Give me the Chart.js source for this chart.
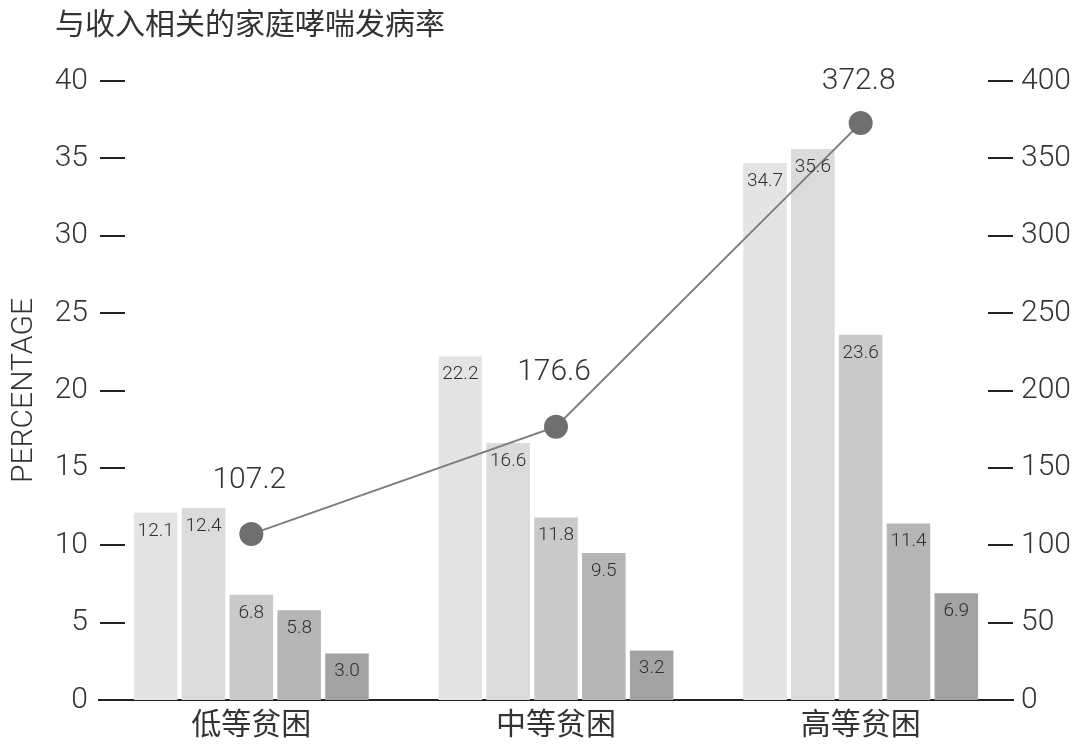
<!DOCTYPE html>
<html>
<head>
<meta charset="utf-8">
<script src="https://cdn.jsdelivr.net/npm/chart.js@4"></script>
<style>
  html,body{margin:0;padding:0;background:#fff;}
  #wrap{width:1080px;height:744px;position:relative;}
</style>
</head>
<body>
<div id="wrap"><canvas id="c"></canvas></div>
<script>
const categories = ['低等贫困', '中等贫困', '高等贫困'];
const series1 = [12.1, 22.2, 34.7];
const series2 = [12.4, 16.6, 35.6];
const series3 = [6.8, 11.8, 23.6];
const series4 = [5.8, 9.5, 11.4];
const series5 = [3.0, 3.2, 6.9];
const lineValues = [107.2, 176.6, 372.8];
const leftTicks = [0, 5, 10, 15, 20, 25, 30, 35, 40];
const rightTicks = [0, 50, 100, 150, 200, 250, 300, 350, 400];

const barColors = ['#e4e4e4', '#dbdbdb', '#c9c9c9', '#b5b5b5', '#a3a3a3'];
const NUM_FONT = 'Roboto, "Liberation Sans", sans-serif';
const CJK_FONT = '"Noto Sans CJK SC", "Noto Sans", sans-serif';

// short tick dashes drawn just inside the plot area, positioned by the scales
const dashPlugin = {
  id: 'tickDashes',
  afterDraw(chart) {
    const ctx = chart.ctx;
    const area = chart.chartArea;
    const len = 25;
    ctx.save();
    ctx.strokeStyle = '#222';
    ctx.lineWidth = 2;
    ['y', 'y2'].forEach(id => {
      const sc = chart.scales[id];
      sc.ticks.forEach(t => {
        if (t.value === 0) return;
        const py = Math.round(sc.getPixelForValue(t.value));
        ctx.beginPath();
        if (id === 'y') {
          ctx.moveTo(area.left + 1, py);
          ctx.lineTo(area.left + 1 + len, py);
        } else {
          ctx.moveTo(area.right - len, py);
          ctx.lineTo(area.right, py);
        }
        ctx.stroke();
      });
    });
    ctx.restore();
  }
};

const labelPlugin = {
  id: 'valueLabels',
  afterDatasetsDraw(chart) {
    const ctx = chart.ctx;
    ctx.save();
    ctx.textAlign = 'center';
    ctx.textBaseline = 'middle';
    chart.data.datasets.forEach((ds, i) => {
      const meta = chart.getDatasetMeta(i);
      if (ds.type === 'line') {
        ctx.font = '300 30px ' + NUM_FONT;
        ctx.fillStyle = '#333';
        meta.data.forEach((pt, j) => {
          const y = Math.max(chart.chartArea.top, pt.y - 54);
          ctx.fillText(ds.data[j].toFixed(1), pt.x - 2, y);
        });
      } else {
        ctx.font = '300 19px ' + NUM_FONT;
        ctx.fillStyle = '#2e2e2e';
        meta.data.forEach((bar, j) => {
          ctx.fillText(ds.data[j].toFixed(1), bar.x, bar.y + 18);
        });
      }
    });
    ctx.restore();
  }
};

const barDatasets = [series1, series2, series3, series4, series5].map((s, i) => ({
  type: 'bar',
  data: s,
  backgroundColor: barColors[i],
  yAxisID: 'y',
  order: 2,
  categoryPercentage: 0.785,
  barPercentage: 0.91
}));

new Chart(document.getElementById('c'), {
  data: {
    labels: categories,
    datasets: [
      {
        type: 'line',
        data: lineValues,
        yAxisID: 'y2',
        borderColor: '#7d7d7d',
        borderWidth: 2,
        pointRadius: 12,
        pointBackgroundColor: '#6f6f6f',
        pointBorderColor: '#6f6f6f',
        pointBorderWidth: 0,
        order: 0
      },
      ...barDatasets
    ]
  },
  options: {
    responsive: true,
    maintainAspectRatio: false,
    animation: false,
    devicePixelRatio: 1,
    layout: { padding: { left: 55, right: 0, top: 0, bottom: 0 } },
    plugins: {
      legend: { display: false },
      tooltip: { enabled: false },
      title: {
        display: true,
        text: '与收入相关的家庭哮喘发病率',
        align: 'start',
        color: '#333',
        font: { family: CJK_FONT, size: 30, weight: 'normal', lineHeight: 1.2 },
        padding: { top: 5, bottom: 40 }
      }
    },
    scales: {
      x: {
        grid: { display: false, drawTicks: false },
        border: { display: true, color: '#222', width: 2 },
        ticks: {
          color: '#333',
          font: { family: CJK_FONT, size: 30 },
          padding: 5,
          maxRotation: 0
        },
        afterFit(scale) { scale.height = 44; }
      },
      y: {
        position: 'left',
        min: 0, max: 40,
        grid: { display: false, drawTicks: false },
        border: { display: false },
        afterBuildTicks(scale) { scale.ticks = leftTicks.map(v => ({ value: v })); },
        ticks: {
          color: '#333',
          font: { family: NUM_FONT, size: 30, weight: '300' },
          padding: 11
        },
        title: {
          display: true,
          text: 'PERCENTAGE',
          color: '#333',
          font: { family: NUM_FONT, size: 30, weight: '300' },
          padding: { top: -49, bottom: 0 }
        },
        afterFit(scale) { scale.width = 44; }
      },
      y2: {
        position: 'right',
        min: 0, max: 400,
        grid: { display: false, drawTicks: false },
        border: { display: false },
        afterBuildTicks(scale) { scale.ticks = rightTicks.map(v => ({ value: v })); },
        ticks: {
          color: '#333',
          font: { family: NUM_FONT, size: 30, weight: '300' },
          padding: 8
        },
        afterFit(scale) { scale.width = 67; }
      }
    }
  },
  plugins: [labelPlugin, dashPlugin]
});
</script>
</body>
</html>
